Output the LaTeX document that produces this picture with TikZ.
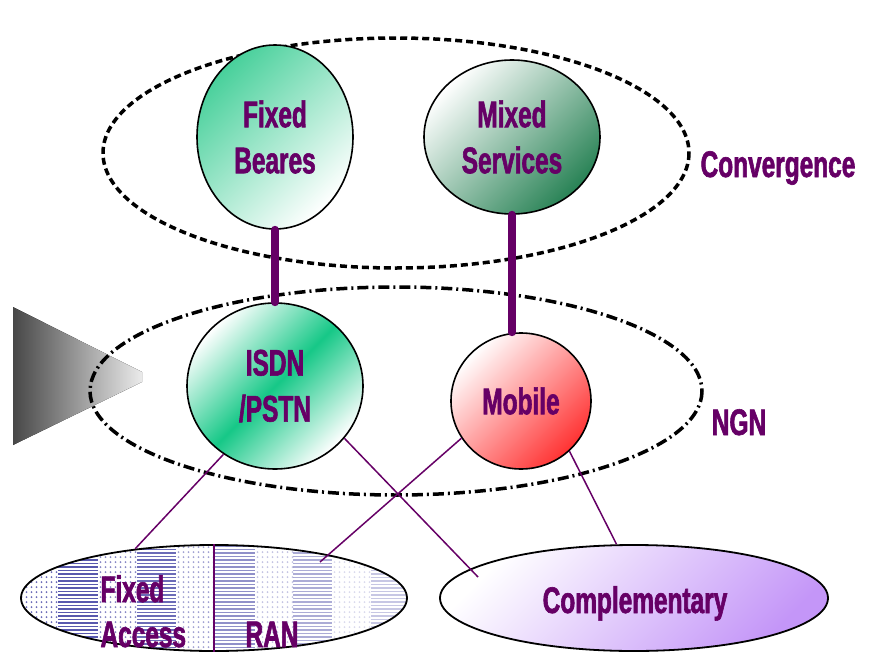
\documentclass[tikz,border=0pt]{standalone}
\usepackage{fontspec}
\newfontfamily\lblfont{Liberation Sans Bold}[FakeStretch=0.66, FakeBold=1.6]
\usetikzlibrary{shapes.geometric}
\definecolor{lblpurple}{RGB}{102,0,102}
\definecolor{fixgreen}{RGB}{72,208,155}
\definecolor{isdngreen}{RGB}{22,200,135}
\definecolor{mixgreen}{RGB}{40,130,85}
\definecolor{mobred}{RGB}{255,50,50}
\definecolor{complav}{RGB}{196,150,248}
\definecolor{patblue}{RGB}{70,70,165}
\tikzset{
  lbl/.style={text=lblpurple, font=\lblfont\fontsize{37}{46}\selectfont, align=center},
  bubble/.style={ellipse, draw=black, line width=1.6pt, inner sep=0pt, lbl},
  thicklink/.style={line width=8pt, draw=lblpurple, line cap=round},
  thinlink/.style={line width=1.5pt, draw=lblpurple},
  convring/.style={draw=black, line width=3.5pt, dash pattern=on 7pt off 4pt},
  ngnring/.style={draw=black, line width=3.5pt, dash pattern=on 11pt off 4pt on 2pt off 4pt},
}
\begin{document}
\begin{tikzpicture}[x=1pt,y=-1pt]
\useasboundingbox (0,0) rectangle (876,653);

% grey wedge on the left
\fill[top color=black!72, bottom color=black!8, shading angle=90]
  (13,307) -- (142,372) -- (142,382) -- (13,445) -- cycle;

% outer rings
\draw[convring] (396,153) ellipse [x radius=293, y radius=115];
\draw[ngnring] (396,391) ellipse [x radius=306, y radius=104];

% bubbles
\node[bubble, minimum width=156, minimum height=184,
      top color=fixgreen, bottom color=white, shading angle=45]
  (fixed) at (275,137) {Fixed\\Beares};
\node[bubble, minimum width=176, minimum height=154,
      top color=white, bottom color=mixgreen, shading angle=45]
  (mixed) at (512,137) {Mixed\\Services};
\node[bubble, minimum width=176, minimum height=166,
      top color=white, bottom color=white, middle color=isdngreen, shading angle=45]
  (isdn) at (275,386) {ISDN\\/PSTN};
\node[bubble, minimum width=140, minimum height=136,
      top color=white, bottom color=mobred, shading angle=45]
  (mobile) at (521,401) {Mobile};

% access ellipse with hatched fill
\begin{scope}
  \clip (214,598) ellipse [x radius=193, y radius=53];
  \foreach \xa/\op in {19/0.8, 98/0.65, 176/0.5, 255/0.32, 332/0.2}{
    \foreach \i in {0,...,7}{
      \foreach \y in {547,552,...,652}{
        \fill[patblue, opacity=\op] (\xa+2.5+\i*5,\y) circle [radius=1];
      }
    }
  }
  \foreach \xa/\xb/\op in {58/98/0.9, 137/176/0.8, 215/255/0.6, 293/332/0.45, 371/410/0.3}{
    \foreach \y in {545,548.5,...,652}{
      \fill[patblue, opacity=\op] (\xa,\y) rectangle (\xb,\y+1.7);
    }
  }
\end{scope}
\node[ellipse, draw=black, line width=1.8pt, inner sep=0pt,
      minimum width=386, minimum height=106] (fa) at (214,598) {};
\draw[thinlink] (fa.north) -- (fa.south);
\node[lbl, anchor=base west] (fatxt) at (97,602) {Fixed};
\node[lbl, anchor=base west] (actxt) at (97,647) {Access};
\node[lbl, anchor=base] (rantxt) at (272,647) {RAN};

% complementary ellipse
\node[ellipse, draw=black, line width=1.8pt, inner sep=0pt,
      minimum width=388, minimum height=106,
      top color=white, bottom color=complav, shading angle=45] (comp) at (634,598) {};
\node[lbl, anchor=base] (comptxt) at (635,613) {Complementary};

% ring labels
\node[lbl, anchor=base] (convtxt) at (778,177) {Convergence};
\node[lbl, anchor=base] (ngntxt) at (739,435) {NGN};

% vertical links
\draw[thicklink] (fixed.south) -- (isdn.north);
\draw[thicklink] (mixed.south) -- (mixed.south |- mobile.north);

% access links
\coordinate (compin) at (478,577);
\coordinate (ranin) at (320,562);
\draw[thinlink] (isdn.233) -- (fa.148);
\draw[thinlink] (isdn.323) -- (compin);
\draw[thinlink] (mobile.212) -- (ranin);
\draw[thinlink] (mobile.314) -- (comp.108);
\end{tikzpicture}
\end{document}
